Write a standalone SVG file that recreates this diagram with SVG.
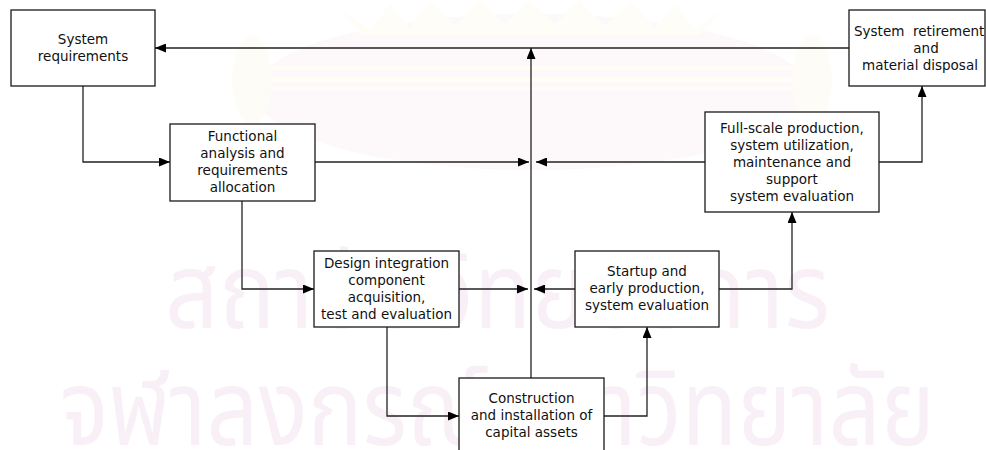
<svg xmlns="http://www.w3.org/2000/svg" width="986" height="450" viewBox="0 0 986 450">
<style>
.box{fill:#fff;stroke:#1a1a1a;stroke-width:1.3}
.t{font-family:"DejaVu Sans","Liberation Sans",sans-serif;font-size:13.5px;fill:#111;text-anchor:middle}
.c{fill:none;stroke:#222;stroke-width:1.3}
.wm{font-family:"Noto Sans Thai","Noto Sans","DejaVu Sans",sans-serif;fill:#f8f0f6}
</style>
<defs>
<marker id="ah" markerUnits="userSpaceOnUse" markerWidth="11" markerHeight="9" refX="11" refY="4.5" orient="auto">
<path d="M0,0 L11,4.5 L0,9 z" fill="#000"/>
</marker>
</defs>
<rect width="986" height="450" fill="#fff"/>
<g id="watermark">
<ellipse cx="532" cy="92" rx="278" ry="78" fill="#fdf8fa"/>
<path d="M340,8 L370,30 L390,4 L410,28 L430,0 L455,26 L480,0 L505,24 L530,0 L555,24 L580,0 L605,26 L630,0 L655,28 L675,4 L695,30 L725,8 L700,35 L360,35 z" fill="#fefdf7"/>
<rect x="240" y="66" width="590" height="4" fill="#fefdf6"/>
<rect x="240" y="77" width="590" height="5" fill="#fefdf6"/>
<rect x="240" y="87" width="590" height="3" fill="#fefdf6"/>
<ellipse cx="252" cy="80" rx="20" ry="45" fill="#fefcf6"/>
<ellipse cx="812" cy="80" rx="20" ry="45" fill="#fefcf6"/>
<text class="wm" x="165" y="328" font-size="105" textLength="665" lengthAdjust="spacingAndGlyphs">สถาบันวิทยบริการ</text>
<text class="wm" x="60" y="445" font-size="105" textLength="875" lengthAdjust="spacingAndGlyphs">จุฬาลงกรณ์มหาวิทยาลัย</text>
</g>
<g id="connectors">
<path class="c" d="M849,48 H155" marker-end="url(#ah)"/>
<path class="c" d="M531,378 V48" marker-end="url(#ah)"/>
<path class="c" d="M83,86 V162 H170" marker-end="url(#ah)"/>
<path class="c" d="M315,162 H529" marker-end="url(#ah)"/>
<path class="c" d="M705,162 H536" marker-end="url(#ah)"/>
<path class="c" d="M879,162 H922 V86" marker-end="url(#ah)"/>
<path class="c" d="M242,201 V289 H314" marker-end="url(#ah)"/>
<path class="c" d="M459,289 H528" marker-end="url(#ah)"/>
<path class="c" d="M575,289 H534" marker-end="url(#ah)"/>
<path class="c" d="M719,289 H792 V212" marker-end="url(#ah)"/>
<path class="c" d="M387,327 V416 H459" marker-end="url(#ah)"/>
<path class="c" d="M604,416 H647 V327" marker-end="url(#ah)"/>
</g>
<g id="system-requirements">
<rect class="box" x="11" y="10" width="144" height="76"/>
<text class="t" x="83" y="44">System</text>
<text class="t" x="83" y="61">requirements</text>
</g>
<g id="functional-analysis">
<rect class="box" x="170" y="124" width="145" height="77"/>
<text class="t" x="242.5" y="141">Functional</text>
<text class="t" x="242.5" y="158">analysis and</text>
<text class="t" x="242.5" y="175">requirements</text>
<text class="t" x="242.5" y="192">allocation</text>
</g>
<g id="design-integration">
<rect class="box" x="314" y="251" width="145" height="76"/>
<text class="t" x="386.5" y="268">Design integration</text>
<text class="t" x="386.5" y="285">component</text>
<text class="t" x="386.5" y="302">acquisition,</text>
<text class="t" x="386.5" y="319">test and evaluation</text>
</g>
<g id="construction">
<rect class="box" x="459" y="378" width="145" height="90"/>
<text class="t" x="531.5" y="403">Construction</text>
<text class="t" x="531.5" y="420">and installation of</text>
<text class="t" x="531.5" y="437">capital assets</text>
</g>
<g id="startup">
<rect class="box" x="575" y="251" width="144" height="76"/>
<text class="t" x="647" y="276">Startup and</text>
<text class="t" x="647" y="293">early production,</text>
<text class="t" x="647" y="310">system evaluation</text>
</g>
<g id="full-scale-production">
<rect class="box" x="705" y="112" width="174" height="100"/>
<text class="t" x="792" y="133">Full-scale production,</text>
<text class="t" x="792" y="150">system utilization,</text>
<text class="t" x="792" y="167">maintenance and</text>
<text class="t" x="792" y="184">support</text>
<text class="t" x="792" y="201">system evaluation</text>
</g>
<g id="system-retirement">
<rect class="box" x="849" y="10" width="136" height="76"/>
<text class="t" x="854" y="36" style="text-anchor:start" xml:space="preserve">System  retirement</text>
<text class="t" x="926" y="53">and</text>
<text class="t" x="920" y="70">material disposal</text>
</g>
</svg>
